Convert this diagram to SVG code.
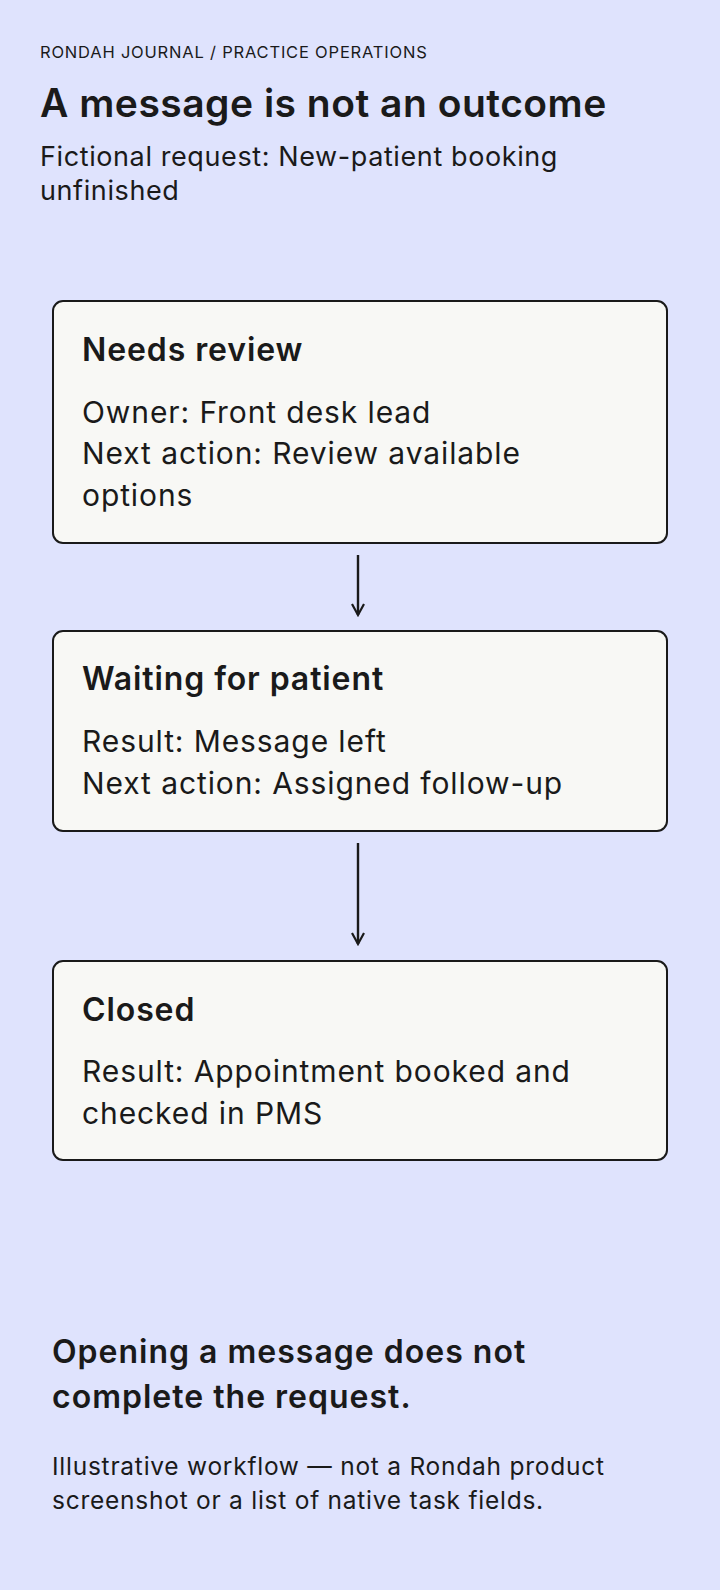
<svg xmlns="http://www.w3.org/2000/svg" width="720" height="1590" viewBox="0 0 720 1590">
<style>
text{font-family:Inter,"Noto Sans",sans-serif;fill:#1a1a1a}
.box{fill:#f8f8f5;stroke:#1a1a1a;stroke-width:2}
.h{font-size:32px;font-weight:600;letter-spacing:0.9px}
.b{font-size:30px;letter-spacing:0.9px}
.c{stroke:#1a1a1a;stroke-width:2.4;fill:none}
</style>
<defs><marker id="ar" viewBox="0 0 14 14" refX="12" refY="7" markerWidth="14" markerHeight="14" markerUnits="userSpaceOnUse" orient="auto"><path d="M1 1L12 7L1 13" fill="none" stroke="#1a1a1a" stroke-width="2.2"/></marker></defs>
<rect width="720" height="1590" fill="#dfe3fd"/>
<g id="header">
<text x="40" y="58" font-size="16.5" letter-spacing="0.8">RONDAH JOURNAL / PRACTICE OPERATIONS</text>
<text x="40" y="117" font-size="39" font-weight="600" letter-spacing="0.5">A message is not an outcome</text>
<text x="40" y="166" font-size="27" letter-spacing="0.6">Fictional request: New-patient booking</text>
<text x="40" y="200" font-size="27" letter-spacing="0.6">unfinished</text>
</g>
<g id="connectors">
<path class="c" d="M358 555V615" marker-end="url(#ar)"/>
<path class="c" d="M358 843V944" marker-end="url(#ar)"/>
</g>
<g id="n1"><rect class="box" x="53" y="301" width="614" height="242" rx="10"/>
<text class="h" x="82" y="361">Needs review</text>
<text class="b" x="82" y="423">Owner: Front desk lead</text>
<text class="b" x="82" y="464">Next action: Review available</text>
<text class="b" x="82" y="506">options</text></g>
<g id="n2"><rect class="box" x="53" y="631" width="614" height="200" rx="10"/>
<text class="h" x="82" y="690">Waiting for patient</text>
<text class="b" x="82" y="752">Result: Message left</text>
<text class="b" x="82" y="794">Next action: Assigned follow-up</text></g>
<g id="n3"><rect class="box" x="53" y="961" width="614" height="199" rx="10"/>
<text class="h" x="82" y="1021">Closed</text>
<text class="b" x="82" y="1082">Result: Appointment booked and</text>
<text class="b" x="82" y="1124">checked in PMS</text></g>
<g id="footer">
<text x="52" y="1363" font-size="32" font-weight="600" letter-spacing="1">Opening a message does not</text>
<text x="52" y="1408" font-size="32" font-weight="600" letter-spacing="1">complete the request.</text>
<text x="52" y="1475" font-size="24.5" letter-spacing="0.75">Illustrative workflow — not a Rondah product</text>
<text x="52" y="1509" font-size="24.5" letter-spacing="0.75">screenshot or a list of native task fields.</text>
</g>
</svg>
